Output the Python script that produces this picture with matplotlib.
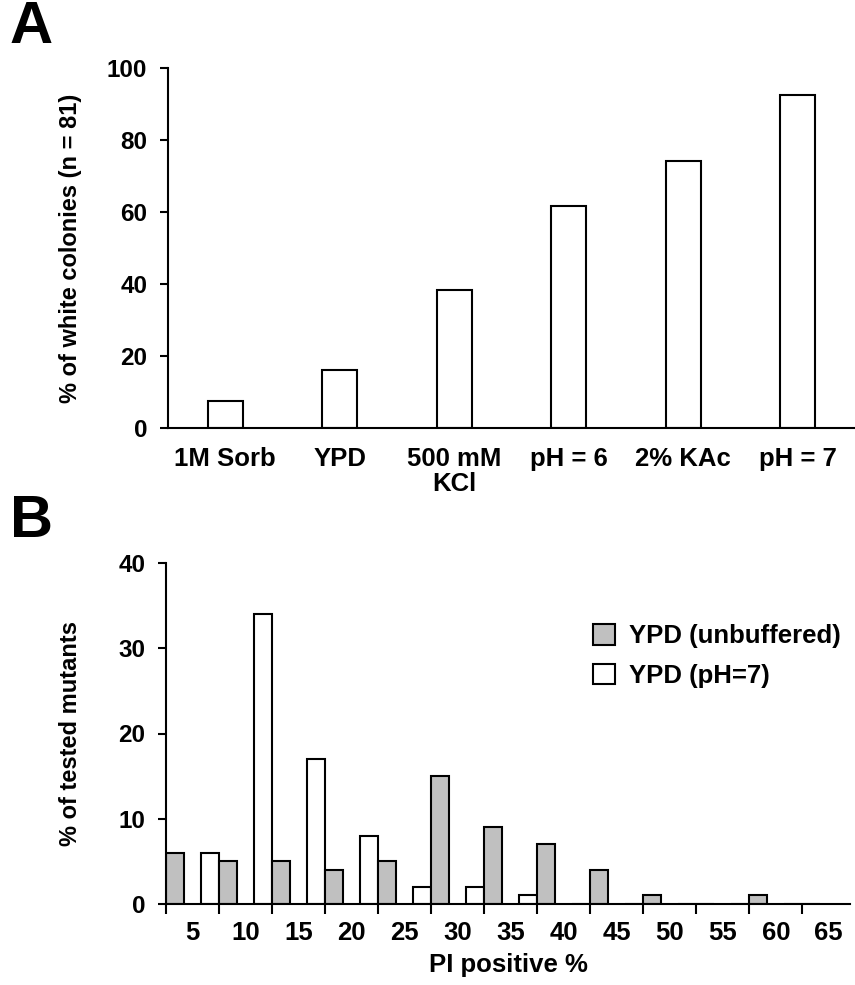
import numpy as np
import matplotlib.pyplot as plt
from matplotlib.patches import Patch

plt.rcParams['font.family'] = ['Liberation Sans', 'DejaVu Sans']
plt.rcParams['font.weight'] = 'bold'
plt.rcParams['axes.linewidth'] = 1.5

# panel A: % white colonies per condition
conditions = ['1M Sorb', 'YPD', '500 mM\nKCl', 'pH = 6', '2% KAc', 'pH = 7']
white_pct = [7.4, 16.0, 38.3, 61.7, 74.1, 92.6]

# panel B: distribution of PI positive % (bins 5..65)
bin_labels = ['5', '10', '15', '20', '25', '30', '35', '40', '45', '50', '55', '60', '65']
ypd_unbuf = [6, 5, 5, 4, 5, 15, 9, 7, 4, 1, 0, 1, 0]
ypd_ph7 = [0, 6, 34, 17, 8, 2, 2, 1, 0, 0, 0, 0, 0]

gray = '#c0c0c0'
fs_y = 17.5    # y tick labels
fs_x = 18.5    # x tick labels / xlabel / legend
fs_lab = 17    # y axis labels

fig = plt.figure(figsize=(8.55, 9.85), dpi=100)

# ---- A ----
axA = fig.add_axes([168/855, 1-428/985, 687/855, 360/985])
xa = np.arange(len(conditions))
axA.bar(xa, white_pct, width=0.31, color='white', edgecolor='black', linewidth=1.5)
axA.set_xlim(-0.5, 5.5)
axA.set_ylim(0, 100)
axA.set_yticks([0, 20, 40, 60, 80, 100])
axA.set_xticks(xa)
axA.set_xticklabels(conditions, fontsize=fs_x, fontweight='bold', linespacing=1.05)
axA.tick_params(axis='x', length=0, pad=14)
axA.tick_params(axis='y', length=6, width=1.5, pad=9, labelsize=fs_y)
axA.set_ylabel('% of white colonies (n = 81)', fontsize=fs_lab, fontweight='bold')
axA.yaxis.set_label_coords((82-168)/687, 0.5)
for s in ['top', 'right']:
    axA.spines[s].set_visible(False)

# ---- B ----
axB = fig.add_axes([166/855, 1-904/985, 684/855, 341/985])
xb = np.arange(len(bin_labels))
w = 0.34
axB.bar(xb - w/2, ypd_ph7, width=w, color='white', edgecolor='black', linewidth=1.5)
axB.bar(xb + w/2, ypd_unbuf, width=w, color=gray, edgecolor='black', linewidth=1.5)
axB.set_xlim(0, 12.9)
axB.set_ylim(0, 40)
axB.set_yticks([0, 10, 20, 30, 40])
axB.set_xticks(xb)
axB.set_xticklabels([])
axB.set_xticks(xb + 0.5, minor=True)
axB.set_xticklabels(bin_labels, minor=True, fontsize=fs_x, fontweight='bold')
axB.tick_params(axis='x', which='major', length=7, width=1.5, direction='out')
axB.tick_params(axis='x', which='minor', length=0, pad=12)
axB.tick_params(axis='y', length=6, width=1.5, pad=9, labelsize=fs_y)
axB.set_ylabel('% of tested mutants', fontsize=fs_lab, fontweight='bold')
axB.yaxis.set_label_coords((82-166)/684, 0.5)
axB.set_xlabel('PI positive %', fontsize=fs_x, fontweight='bold', labelpad=6)
for s in ['top', 'right']:
    axB.spines[s].set_visible(False)

handles = [Patch(facecolor=gray, edgecolor='black', linewidth=1.5),
           Patch(facecolor='white', edgecolor='black', linewidth=1.5)]
axB.legend(handles, ['YPD (unbuffered)', 'YPD (pH=7)'], frameon=False,
           loc='upper left', bbox_to_anchor=(593/855, 1-624/985), bbox_transform=fig.transFigure,
           prop={'size': fs_x, 'weight': 'bold'}, handlelength=0.86, handleheight=0.86,
           handletextpad=0.55, labelspacing=0.6, borderpad=0, borderaxespad=0)

# panel letters
fig.text(10/855, 1-0/985, 'A', fontsize=43, fontweight='bold', va='top', ha='left')
fig.text(10/855, 1-494/985, 'B', fontsize=43, fontweight='bold', va='top', ha='left')

fig.savefig('out.png', dpi=100)
